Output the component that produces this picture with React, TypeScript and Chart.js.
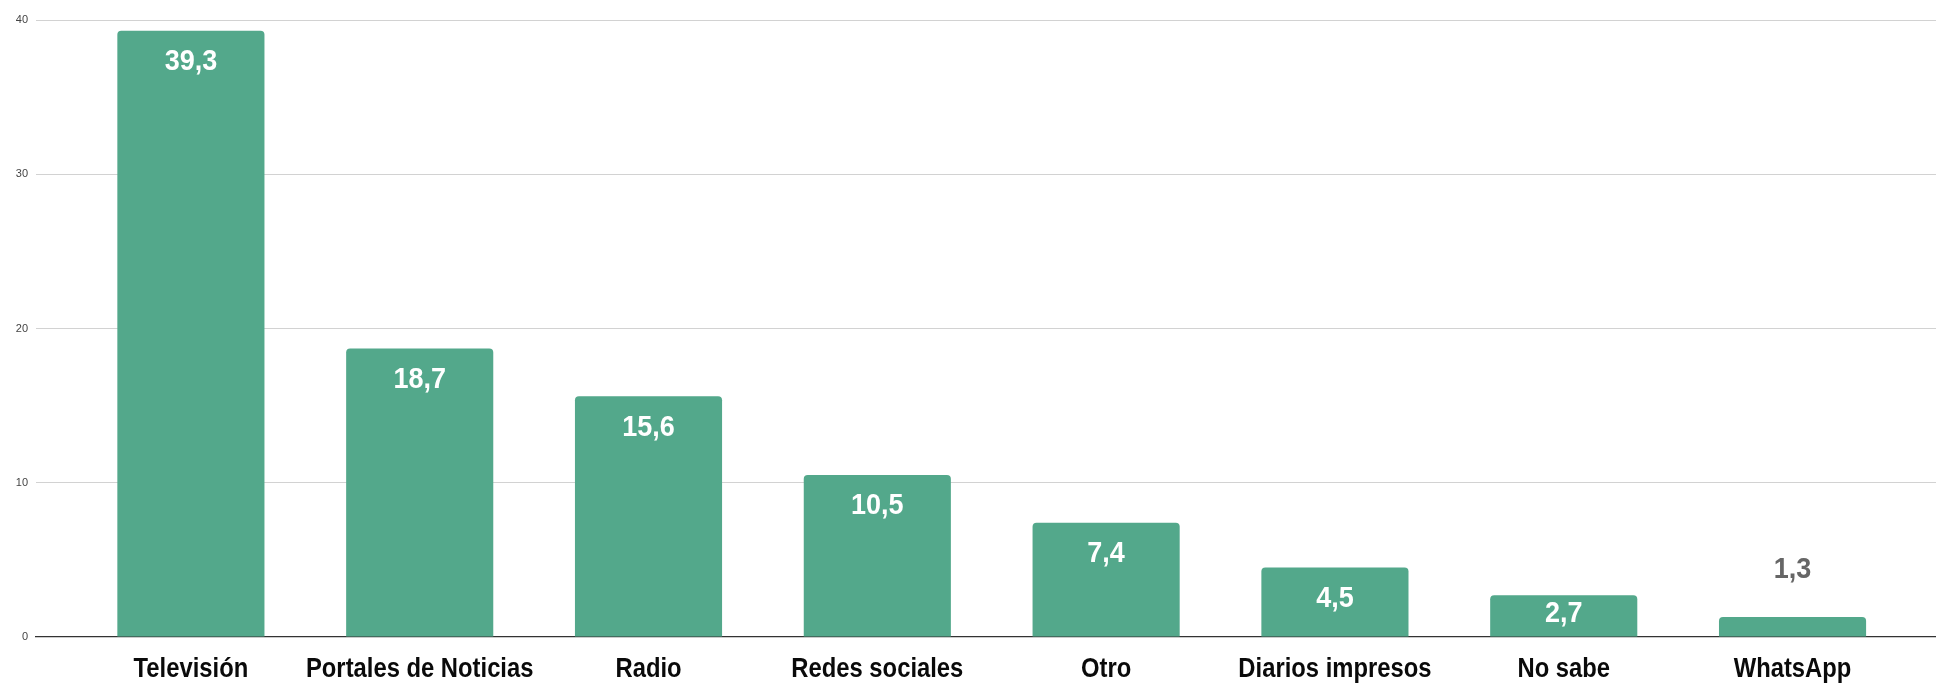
import React, { useEffect, useRef } from "react";
import { Chart, registerables } from "chart.js";

Chart.register(...registerables);

const categories = [
  "Televisión",
  "Portales de Noticias",
  "Radio",
  "Redes sociales",
  "Otro",
  "Diarios impresos",
  "No sabe",
  "WhatsApp",
];
const values = [39.3, 18.7, 15.6, 10.5, 7.4, 4.5, 2.7, 1.3];
const yTicks = [0, 10, 20, 30, 40];

const BASE_FONT = '"Liberation Sans", Arial, sans-serif';
const BAR_COLOR = "#53a88b";

const fmt = (v: number) => v.toFixed(1).replace(".", ",");

function drawNarrow(ctx: CanvasRenderingContext2D, text: string, x: number, y: number, sx: number) {
  ctx.save();
  ctx.translate(x, y);
  ctx.scale(sx, 1);
  ctx.fillText(text, 0, 0);
  ctx.restore();
}

const labelsPlugin = {
  id: "narrowLabels",
  afterDatasetsDraw(chart: any) {
    const ctx = chart.ctx as CanvasRenderingContext2D;
    const meta = chart.getDatasetMeta(0);
    ctx.save();
    ctx.font = `bold 30px ${BASE_FONT}`;
    ctx.textAlign = "center";
    ctx.textBaseline = "middle";
    meta.data.forEach((bar: any, i: number) => {
      const top = bar.y;
      const base = bar.base;
      const h = base - top;
      let ty: number;
      if (h < 30) {
        ctx.fillStyle = "#666666";
        ty = top - 47;
      } else {
        ctx.fillStyle = "#ffffff";
        ty = Math.min(top + 31, (top + base) / 2 - 2);
      }
      drawNarrow(ctx, fmt(values[i]), bar.x, ty, 0.9);
    });
    // category labels under the x axis
    const xs = chart.scales.x;
    ctx.font = `bold 28px ${BASE_FONT}`;
    ctx.fillStyle = "#0a0a0a";
    ctx.textBaseline = "middle";
    categories.forEach((c, i) => {
      drawNarrow(ctx, c, xs.getPixelForValue(i), xs.top + 32, 0.85);
    });
    ctx.restore();
  },
};

export default function App() {
  const canvasRef = useRef<HTMLCanvasElement | null>(null);

  useEffect(() => {
    if (!canvasRef.current) return;
    const chart = new Chart(canvasRef.current, {
      type: "bar",
      data: {
        datasets: [
          {
            data: values.map((v, i) => ({ x: i, y: v })),
            backgroundColor: BAR_COLOR,
            borderRadius: { topLeft: 4, topRight: 4, bottomLeft: 0, bottomRight: 0 },
            borderSkipped: false,
            categoryPercentage: 1,
            barPercentage: 0.643,
          } as any,
        ],
      },
      options: {
        animation: false,
        responsive: true,
        maintainAspectRatio: false,
        layout: { padding: { top: 20, right: 0, bottom: 0, left: 0 } },
        plugins: {
          legend: { display: false },
          tooltip: { enabled: false },
        },
        scales: {
          x: {
            type: "linear",
            offset: false,
            min: -0.677,
            max: 7.627,
            grid: { display: false, drawTicks: false },
            border: { display: true, color: "#333333", width: 1.3 },
            afterBuildTicks: (axis: any) => {
              axis.ticks = categories.map((_, i) => ({ value: i }));
            },
            afterFit: (s: any) => {
              s.height = 46;
            },
            ticks: { display: false },
          } as any,
          y: {
            min: 0,
            max: 40,
            afterBuildTicks: (axis: any) => {
              axis.ticks = yTicks.map((v) => ({ value: v }));
            },
            afterFit: (s: any) => {
              s.width = 36;
            },
            grid: {
              drawTicks: false,
              color: (c: any) => (c.tick && c.tick.value === 0 ? "rgba(0,0,0,0)" : "#d2d2d2"),
              lineWidth: 1,
            },
            border: { display: false },
            ticks: {
              padding: 8,
              color: "#444444",
              font: { family: BASE_FONT, size: 11 },
            },
          } as any,
        },
      },
      plugins: [labelsPlugin],
    });
    return () => chart.destroy();
  }, []);

  return (
    <div style={{ position: "fixed", left: 0, top: 0, width: 1936, height: 683, background: "#ffffff" }}>
      <canvas ref={canvasRef} />
    </div>
  );
}
